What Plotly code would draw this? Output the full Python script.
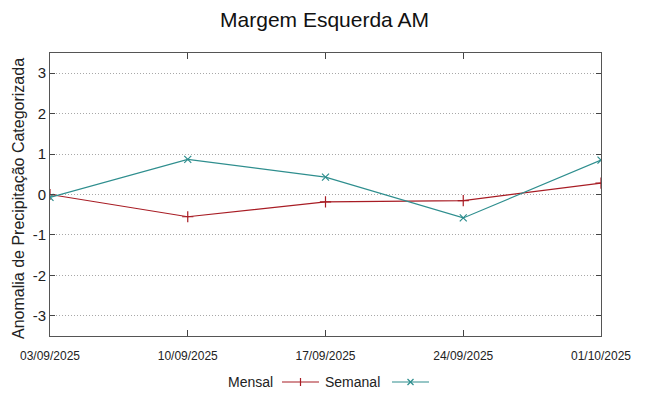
import plotly.graph_objects as go

dates = ["2025-09-03", "2025-09-10", "2025-09-17", "2025-09-24", "2025-10-01"]
tick_labels = ["03/09/2025", "10/09/2025", "17/09/2025", "24/09/2025", "01/10/2025"]
y_ticks = [-3, -2, -1, 0, 1, 2, 3]
y_tick_labels = ["-3", "-2", "-1", "0", "1", "2", "3"]
mensal = [0.0, -0.55, -0.18, -0.15, 0.28]
semanal = [-0.07, 0.87, 0.43, -0.58, 0.85]

RED = "#a81c24"
TEAL = "#2e8e8e"
FONT = "Liberation Sans"

fig = go.Figure()
fig.add_trace(go.Scatter(x=dates, y=mensal, mode="lines+markers", name="Mensal",
                         line=dict(color=RED, width=1.2),
                         marker=dict(symbol="cross-thin", size=8, line=dict(color=RED, width=1.2))))
fig.add_trace(go.Scatter(x=dates, y=semanal, mode="lines+markers", name="Semanal",
                         line=dict(color=TEAL, width=1.2),
                         marker=dict(symbol="x-thin", size=7, line=dict(color=TEAL, width=1.2))))

fig.update_layout(
    width=649, height=396,
    margin=dict(l=50, r=48, t=53, b=60, autoexpand=False),
    paper_bgcolor="white", plot_bgcolor="white",
    showlegend=False,
    title=dict(text="Margem Esquerda AM", x=0.5, xanchor="center", y=1 - 20 / 396, yanchor="middle",
               font=dict(family=FONT, size=21, color="#111")),
    font=dict(family=FONT, color="#222"),
)
fig.update_xaxes(type="date", range=[dates[0], dates[-1]], tickvals=dates, ticktext=tick_labels,
                 ticks="inside", ticklen=6, tickcolor="#444", showline=True, linecolor="#555",
                 linewidth=1, mirror="ticks", showgrid=False, zeroline=False, ticklabelstandoff=9,
                 tickfont=dict(family=FONT, size=12, color="#222"))
fig.update_yaxes(range=[-3.5, 3.5], tickvals=y_ticks, ticktext=y_tick_labels,
                 ticks="inside", ticklen=5, tickcolor="#444", showline=True, linecolor="#555",
                 linewidth=1, mirror="ticks", showgrid=True, gridcolor="#a8a8a8", griddash="1px,2px",
                 gridwidth=1, zeroline=False,
                 tickfont=dict(family=FONT, size=15, color="#222"))

# pixel-based paper coordinates helpers
pl, pr, pt, pb = 50, 601, 53, 336
def px(x):
    return (x - pl) / (pr - pl)
def py(y):
    return (pb - y) / (pb - pt)

# y-axis title
fig.add_annotation(x=px(18), y=py(199), xref="paper", yref="paper",
                   text="Anomalia de Precipitação Categorizada", textangle=-90, showarrow=False,
                   xanchor="center", yanchor="middle", font=dict(family=FONT, size=16, color="#222"))

# gnuplot-style legend (text followed by sample)
ly = 382
legend_items = [("Mensal", RED, 275, 282, 319, "plus"), ("Semanal", TEAL, 382, 392, 429, "x")]
for name, col, text_right, l0, l1, mk in legend_items:
    fig.add_annotation(x=px(text_right), y=py(ly), xref="paper", yref="paper", text=name,
                       showarrow=False, xanchor="right", yanchor="middle",
                       font=dict(family=FONT, size=14, color="#222"))
    fig.add_shape(type="line", xref="paper", yref="paper", x0=px(l0), x1=px(l1), y0=py(ly), y1=py(ly),
                  line=dict(color=col, width=1.2))
    cx = (l0 + l1) / 2
    if mk == "plus":
        fig.add_shape(type="line", xref="paper", yref="paper", x0=px(cx), x1=px(cx), y0=py(ly - 4), y1=py(ly + 4),
                      line=dict(color=col, width=1.2))
    else:
        fig.add_shape(type="line", xref="paper", yref="paper", x0=px(cx - 3), x1=px(cx + 3), y0=py(ly - 3), y1=py(ly + 3),
                      line=dict(color=col, width=1.2))
        fig.add_shape(type="line", xref="paper", yref="paper", x0=px(cx - 3), x1=px(cx + 3), y0=py(ly + 3), y1=py(ly - 3),
                      line=dict(color=col, width=1.2))

fig.write_html("out.html", config={"displayModeBar": False},
               post_script="document.body.style.margin='0';")
